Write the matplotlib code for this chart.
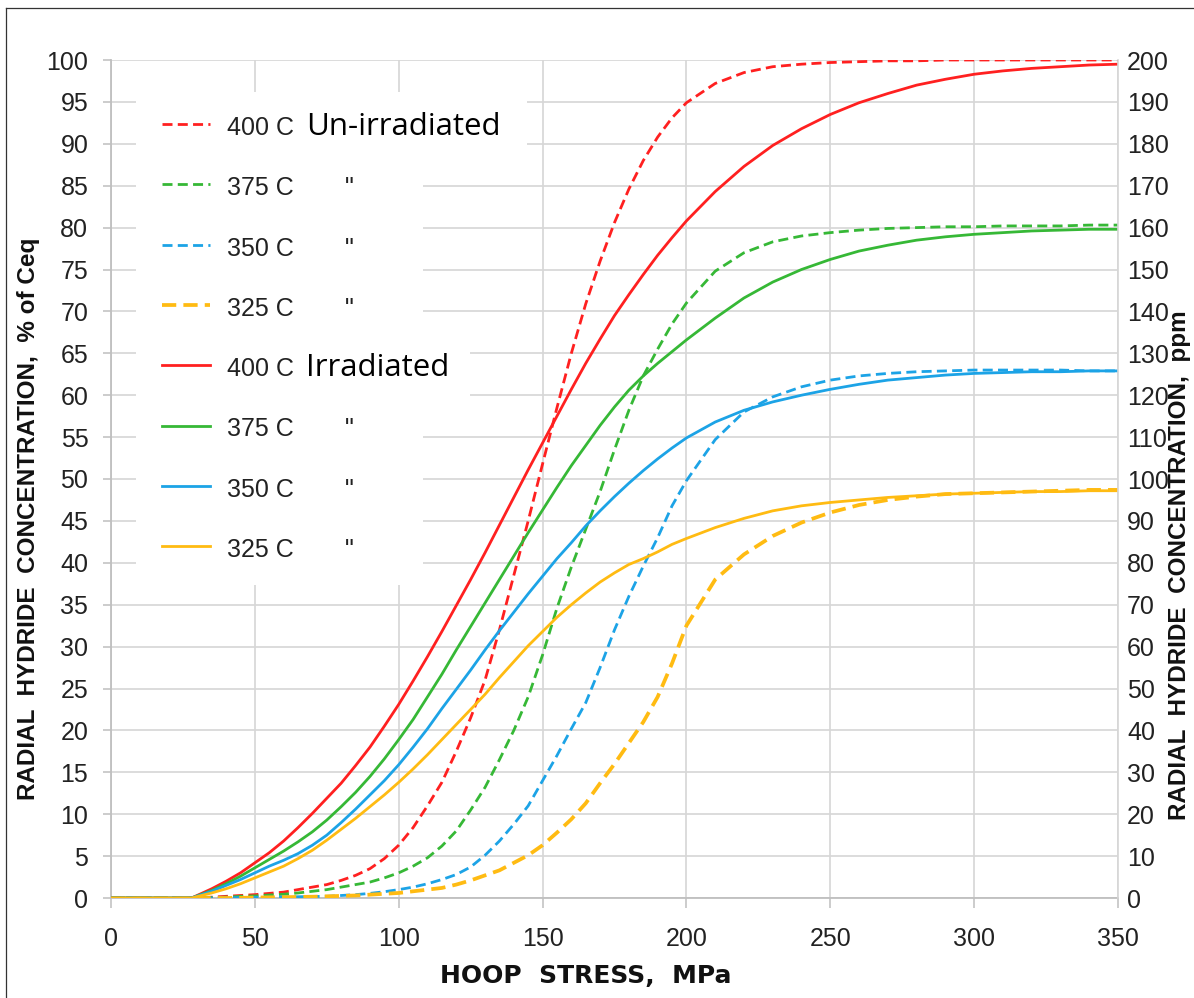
import numpy as np
import matplotlib.pyplot as plt
from matplotlib.lines import Line2D
from matplotlib.patches import Rectangle

# hoop stress, MPa
stress = [0, 10, 20, 28, 35, 40, 45, 50, 55, 60, 65, 70, 75, 80, 85, 90, 95,
          100, 105, 110, 115, 120, 125, 130, 135, 140, 145, 150, 155, 160,
          165, 170, 175, 180, 185, 190, 195, 200, 210, 220, 230, 240, 250,
          260, 270, 280, 290, 300, 310, 320, 330, 340, 350]

# radial hydride concentration, % of Ceq -- un-irradiated (dashed)
unirr_400 = [0, 0, 0, 0, 0.1, 0.2, 0.3, 0.4, 0.55, 0.7, 1.0, 1.3, 1.6, 2.1,
             2.7, 3.5, 4.7, 6.3, 8.4, 11.0, 13.8, 17.5, 21.5, 26.0,
             32.0, 38.5, 45.0, 51.8, 58.5, 65.0, 70.9, 76.0, 80.6, 84.6,
             88.0, 90.8, 93.1, 94.9,
             97.2, 98.5, 99.2, 99.5, 99.7, 99.8, 99.9, 99.9, 100, 100, 100,
             100, 100, 100, 100]
unirr_375 = [0, 0, 0, 0, 0.05, 0.1, 0.2, 0.25, 0.35, 0.45, 0.6, 0.8, 1.0, 1.3,
             1.6, 1.9, 2.4, 3.0, 3.8, 4.8, 6.2, 8.0, 10.5, 13.2,
             16.5, 20.0, 24.0, 29.0, 34.6, 39.5, 44.0, 48.5, 53.5, 58.2,
             62.3, 65.5, 68.5, 71.0,
             74.8, 77.0, 78.3, 79.0, 79.4, 79.7, 79.9, 80.0, 80.1, 80.1, 80.2,
             80.2, 80.2, 80.3, 80.3]
unirr_350 = [0, 0, 0, 0, 0, 0.02, 0.05, 0.08, 0.1, 0.12, 0.15, 0.18, 0.2, 0.3,
             0.4, 0.55, 0.75, 1.0, 1.3, 1.7, 2.2, 2.8, 3.7, 5.1,
             6.8, 8.8, 11.0, 14.0, 17.0, 20.2, 23.3, 27.5, 32.0, 36.0,
             39.6, 43.0, 46.8, 49.8,
             54.7, 58.0, 59.8, 61.0, 61.8, 62.3, 62.6, 62.8, 62.9, 63.0, 63.0,
             63.0, 63.0, 62.9, 62.9]
unirr_325 = [0, 0, 0, 0, 0, 0, 0.02, 0.05, 0.08, 0.1, 0.12, 0.15, 0.2, 0.25,
             0.3, 0.4, 0.5, 0.6, 0.8, 1.0, 1.2, 1.6, 2.1, 2.7,
             3.3, 4.2, 5.1, 6.3, 7.8, 9.4, 11.3, 13.7, 16.0, 18.5,
             21.0, 24.0, 28.0, 32.5,
             38.0, 41.0, 43.2, 44.8, 46.0, 46.9, 47.5, 47.9, 48.2, 48.3, 48.4,
             48.5, 48.6, 48.7, 48.7]

# irradiated (solid)
irr_400 = [0, 0, 0, 0, 1.1, 2.0, 3.0, 4.2, 5.4, 6.8, 8.4, 10.1, 11.9, 13.7,
           15.8, 18.0, 20.5, 23.1, 25.9, 28.8, 31.8, 34.9, 38.0, 41.2,
           44.5, 47.8, 51.1, 54.3, 57.5, 60.7, 63.8, 66.7, 69.5, 72.0,
           74.4, 76.7, 78.8, 80.8,
           84.3, 87.3, 89.8, 91.8, 93.5, 94.9, 96.0, 97.0, 97.7, 98.3, 98.7,
           99.0, 99.2, 99.4, 99.5]
irr_375 = [0, 0, 0, 0, 0.9, 1.7, 2.6, 3.6, 4.6, 5.6, 6.7, 7.9, 9.3, 10.9,
           12.6, 14.5, 16.6, 18.9, 21.3, 24.0, 26.7, 29.6, 32.4, 35.2,
           38.0, 40.8, 43.6, 46.3, 49.0, 51.6, 54.0, 56.4, 58.6, 60.6,
           62.3, 63.8, 65.2, 66.6,
           69.2, 71.6, 73.5, 75.0, 76.2, 77.2, 77.9, 78.5, 78.9, 79.2, 79.4,
           79.6, 79.7, 79.8, 79.8]
irr_350 = [0, 0, 0, 0, 0.8, 1.5, 2.2, 3.0, 3.8, 4.5, 5.3, 6.3, 7.5, 9.0,
           10.6, 12.3, 14.0, 15.9, 18.0, 20.2, 22.6, 24.9, 27.2, 29.6,
           31.9, 34.1, 36.3, 38.4, 40.5, 42.4, 44.4, 46.2, 47.9, 49.5,
           51.0, 52.4, 53.7, 54.9,
           56.8, 58.2, 59.2, 60.0, 60.7, 61.3, 61.8, 62.1, 62.4, 62.6, 62.7,
           62.8, 62.8, 62.9, 62.9]
irr_325 = [0, 0, 0, 0, 0.6, 1.1, 1.7, 2.4, 3.1, 3.8, 4.7, 5.7, 6.9, 8.2,
           9.5, 10.9, 12.3, 13.8, 15.4, 17.1, 18.9, 20.7, 22.5, 24.3,
           26.3, 28.2, 30.1, 31.8, 33.5, 35.0, 36.4, 37.7, 38.8, 39.8,
           40.5, 41.3, 42.2, 42.9,
           44.2, 45.3, 46.2, 46.8, 47.2, 47.5, 47.8, 48.0, 48.2, 48.3, 48.4,
           48.5, 48.5, 48.6, 48.6]

temps = ["400 C", "375 C", "350 C", "325 C"]
colors = ["#ff2020", "#36b836", "#1ca3e6", "#ffbb12"]

SANS = ["Liberation Sans", "DejaVu Sans"]
W, H = 1194, 998

fig = plt.figure(figsize=(W / 100, H / 100), dpi=100)
ax = fig.add_axes([111 / W, 100 / H, 1007 / W, 838 / H])

ax.set_xlim(0, 350)
ax.set_ylim(0, 100)
ax.set_xticks(np.arange(0, 351, 50))
ax.set_yticks(np.arange(0, 101, 5))
ax.grid(True, color="#d6d6d6", lw=1.2)
ax.set_axisbelow(True)
for s in ["top", "right"]:
    ax.spines[s].set_visible(False)
for s in ["left", "bottom"]:
    ax.spines[s].set_color("#bfbfbf")
    ax.spines[s].set_linewidth(1.3)
ax.tick_params(axis="x", length=7.2, width=1.1, color="#bfbfbf", pad=14,
               labelsize=18, labelcolor="#222222")
ax.tick_params(axis="y", length=5.8, width=1.1, color="#bfbfbf", pad=10.5,
               labelsize=18, labelcolor="#222222")
for lab in ax.get_xticklabels() + ax.get_yticklabels():
    lab.set_family(SANS)

# right-hand scale in ppm
ax2 = ax.twinx()
ax2.set_ylim(0, 200)
ax2.set_yticks(np.arange(0, 201, 10))
for s in ["top", "left", "bottom"]:
    ax2.spines[s].set_visible(False)
ax2.spines["right"].set_color("#d6d6d6")
ax2.spines["right"].set_linewidth(1.2)
ax2.tick_params(axis="y", length=0, pad=6.5, labelsize=18, labelcolor="#222222")
for lab in ax2.get_yticklabels():
    lab.set_family(SANS)

# white area behind the key
for x0, x1, y0, y1 in [(8.7, 108.4, 37.3, 96.2), (8.7, 144.6, 87.5, 96.2),
                       (8.7, 124.8, 57.0, 67.5)]:
    ax.add_patch(Rectangle((x0, y0), x1 - x0, y1 - y0, facecolor="white",
                           edgecolor="none", zorder=1))

unirr = [unirr_400, unirr_375, unirr_350, unirr_325]
irr = [irr_400, irr_375, irr_350, irr_325]

dash_styles = []
for i, (y, c) in enumerate(zip(unirr, colors)):
    lw = 2.7 if i == 3 else 2.0
    dashes = (3.8, 1.9) if i == 3 else (3.6, 1.9)
    ax.plot(stress, y, color=c, lw=lw, dashes=dashes, zorder=3)
    dash_styles.append((lw, dashes))
for y, c in zip(irr, colors):
    ax.plot(stress, y, color=c, lw=2.0, zorder=4)

# key, drawn in pixel rows
row_base = [135 + 60.3 * i for i in range(8)]
for i in range(8):
    c = colors[i % 4]
    yb = row_base[i]
    yc = 1 - (yb - 11) / H
    if i < 4:
        lw, dashes = dash_styles[i]
        ln = Line2D([162 / W, 210 / W], [yc, yc], color=c, lw=lw,
                    dashes=dashes, transform=fig.transFigure)
    else:
        ln = Line2D([162 / W, 210 / W], [yc, yc], color=c, lw=2.0,
                    transform=fig.transFigure)
    fig.add_artist(ln)
    fig.text(227 / W, 1 - yb / H, temps[i % 4], family=SANS, fontsize=18,
             color="#222222", va="baseline", ha="left")
    if i % 4:
        fig.text(349 / W, 1 - yb / H, '"', family=SANS, fontsize=18,
                 color="#222222", va="baseline", ha="center")

fig.text(306 / W, 1 - row_base[0] / H, "Un-irradiated", family="Open Sans",
         fontsize=22.5, va="baseline", ha="left", color="black")
fig.text(306 / W, 1 - row_base[4] / H, "Irradiated", family="Open Sans",
         fontsize=22.5, va="baseline", ha="left", color="black")

# axis titles
fig.text(586 / W, 1 - 983 / H, "HOOP  STRESS,  MPa", family="DejaVu Sans",
         fontweight="bold", fontsize=18, ha="center", va="baseline",
         color="#111111")
fig.text(35 / W, 1 - 519 / H, "RADIAL  HYDRIDE  CONCENTRATION,  % of Ceq",
         family=SANS, fontweight="bold", fontsize=17.5,
         rotation=90, rotation_mode="anchor", ha="center", va="baseline",
         color="#111111")
fig.text(1186 / W, 1 - 565 / H, "RADIAL  HYDRIDE  CONCENTRATION,  ppm",
         family=SANS, fontweight="bold", fontsize=17.5,
         rotation=90, rotation_mode="anchor", ha="center", va="baseline",
         color="#111111")

# outer frame
fig.add_artist(Line2D([6 / W, 6 / W], [0, 1 - 8 / H], color="#333333", lw=0.9,
                      transform=fig.transFigure))
fig.add_artist(Line2D([6 / W, 1], [1 - 8 / H, 1 - 8 / H], color="#333333",
                      lw=0.9, transform=fig.transFigure))

fig.savefig("out.png", dpi=100)
